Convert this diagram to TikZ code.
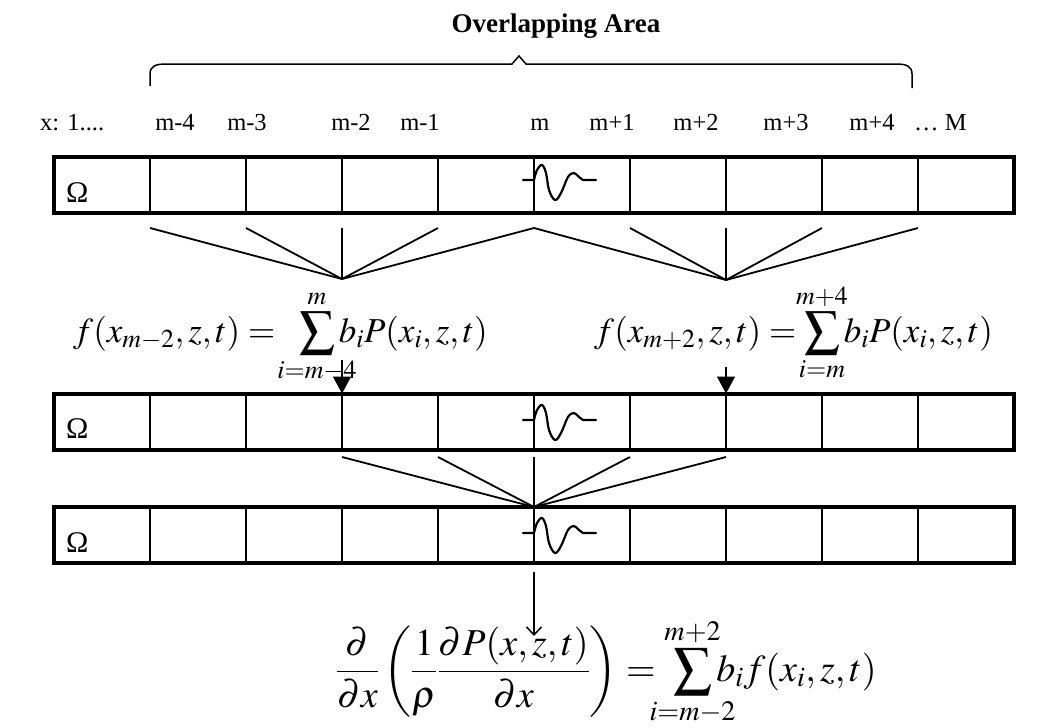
\documentclass[tikz,border=0pt]{standalone}
\usepackage{mathptmx}
\usepackage[no-math]{fontspec}
\setmainfont{Liberation Serif}
\usetikzlibrary{arrows.meta}
\newcommand{\climit}[1]{\makebox[0pt]{$\scriptstyle #1$}}
\begin{document}
\begin{tikzpicture}[x=1pt,y=-1pt,
  cell/.style={draw, line width=2.2pt, minimum width=96pt, minimum height=56pt, inner sep=0pt, outer sep=0pt},
  outer/.style={line width=4pt},
  lbl/.style={font=\fontsize{24.5}{27}\selectfont, inner sep=0pt, anchor=base},
  omega/.style={font=\fontsize{30}{32}\selectfont, inner sep=0pt, anchor=base west},
  title/.style={font=\fontsize{27}{30}\selectfont\bfseries, inner sep=0pt, anchor=base},
  eq/.style={font=\fontsize{35}{40}\selectfont, inner sep=0pt, anchor=base west},
  eqbig/.style={font=\fontsize{38}{42}\selectfont, inner sep=0pt, anchor=base west},
  fan/.style={line width=1.8pt},
  wave/.style={line width=2.2pt, line join=round, line cap=round},
  brace/.style={line width=1.5pt},
  darrow/.style={line width=1.5pt, -{Triangle[width=18pt,length=17pt]}},
  oarrow/.style={line width=1.5pt, -{Straight Barb[width=15pt,length=8pt,line width=1.5pt]}}
]
\fill[white] (0,0) rectangle (1055,728);
\useasboundingbox (0,0) rectangle (1055,728);

% title and brace
\node[title] (title) at (556,32) {Overlapping Area};
\draw[brace] (150,86) -- (150,74) .. controls (150,66) and (156,64) .. (166,64)
  -- (512,64) -- (519,56) -- (526,64) -- (896,64)
  .. controls (906,64) and (912,66) .. (912,74) -- (912,88);

% index labels
\node[lbl, anchor=base west] (lx) at (40,130) {x: 1....};
\node[lbl] (l1) at (175,130) {m-4};
\node[lbl] (l2) at (247,130) {m-3};
\node[lbl] (l3) at (351,130) {m-2};
\node[lbl] (l4) at (420,130) {m-1};
\node[lbl] (l5) at (540,130) {m};
\node[lbl] (l6) at (612,130) {m+1};
\node[lbl] (l7) at (696,130) {m+2};
\node[lbl] (l8) at (786,130) {m+3};
\node[lbl] (l9) at (872,130) {m+4};
\node[lbl, anchor=base west] (lM) at (914,130) {… M};

% rows of cells
\foreach \r/\yc in {1/185,2/421.5,3/535} {
  \foreach \i in {0,...,9} {
    \node[cell] (r\r c\i) at ({54+96*(\i+0.5)},\yc) {};
  }
  \draw[outer] (r\r c0.north west) rectangle (r\r c9.south east);
}
\node[omega] (om1) at (66,202) {Ω};
\node[omega] (om2) at (66,438) {Ω};
\node[omega] (om3) at (66,552) {Ω};

% wavelets
\foreach \ty in {180,420,533} {
  \draw[wave] (523,\ty) -- (534,\ty)
    plot[smooth, tension=0.6] coordinates {(534,\ty) (537,\ty-10) (542,\ty-15) (546,\ty-7) (549,\ty+10) (555,\ty+20) (561,\ty+13) (568,\ty-3) (574,\ty-7) (579,\ty-3) (583,\ty)}
    -- (596,\ty);
}

% fan 1 (left) and fan 2 (right) from row 1
\coordinate (cL) at (342,279);
\coordinate (cR) at (726,280);
\foreach \k in {1,...,5} { \coordinate (a\k) at ({54+96*\k},228); }
\foreach \k in {5,...,9} { \coordinate (b\k) at ({54+96*\k},228); }
\foreach \k in {1,...,5} { \draw[fan] (a\k) -- (cL); }
\foreach \k in {5,...,9} { \draw[fan] (b\k) -- (cR); }

% equations
\node[eq] (eqL) at (73,342) {$\displaystyle f(x_{m-2},z,t) =\hspace{16pt} \sum_{\climit{i=m-4}}^{\climit{m}} b_i P(x_i,z,t)$};
\node[eq] (eqR) at (594,342) {$\displaystyle f(x_{m+2},z,t) = \sum_{\climit{i=m}}^{\climit{m+4}} b_i P(x_i,z,t)$};

% arrows to row 2
\coordinate (la) at (342,360);
\coordinate (ra) at (726,367);
\draw[darrow] (la) -- (r2c2.north east);
\draw[darrow] (ra) -- (r2c6.north east);

% fan from row 2 to row 3
\coordinate (cM) at (534,507);
\foreach \k in {3,...,7} { \coordinate (d\k) at ({54+96*\k},457); \draw[fan] (d\k) -- (cM); }

% arrow to bottom equation
\coordinate (ba) at (534,636);
\draw[oarrow, shorten <=9pt] (r3c4.south east) -- (ba);

\node[eqbig] (eqB) at (336,681) {$\displaystyle \frac{\partial}{\partial x}\left(\frac{1}{\rho}\frac{\partial P(x,z,t)}{\partial x}\right) =\hspace{9pt} \sum_{\climit{i=m-2}}^{\climit{m+2}} b_i f(x_i,z,t)$};
\end{tikzpicture}
\end{document}
